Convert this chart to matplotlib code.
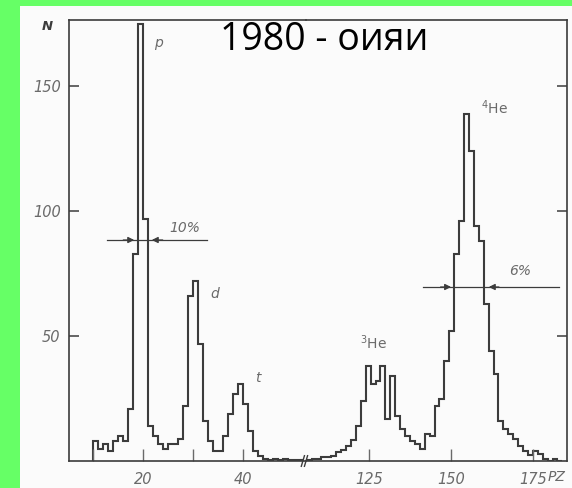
import numpy as np
import matplotlib
matplotlib.use("Agg")
import matplotlib.pyplot as plt
from matplotlib.patches import Rectangle

# ---- data ----
left_start = 10.0
left_width = 1.0
left_counts = [8, 5, 7, 4, 8, 10, 8, 21, 83, 175, 97, 14, 10, 7, 5, 7, 7, 9, 22, 66,
               72, 47, 16, 8, 4, 4, 10, 19, 27, 31, 23, 12, 4, 2, 1, 0.5, 1, 0.5, 1,
               0.5, 0.5, 0.5]
right_start = 106.0
right_width = 1.5
right_counts = [0.5, 1, 1, 1.5, 1.5, 2, 3.5, 4.5, 6, 8.5, 14, 24, 38, 31, 32, 38, 17,
                34, 18, 13, 10, 8, 7, 5, 11, 10, 22, 25, 40, 52, 83, 96, 139, 124, 94,
                88, 63, 44, 35, 16, 13, 11, 9, 6, 4, 2.5, 4, 3, 1, 0, 1, 0]
y_ticks = [50, 100, 150]
left_xticks = [20, 40]
left_minor = [10, 30]
right_xticks = [125, 150, 175]

W, H = 572, 488
GREEN = "#66ff66"
INK = "#3c3c3c"
GRAY = "#6a6a6a"

fig = plt.figure(figsize=(W / 100, H / 100), dpi=100, facecolor=GREEN)
bg = Rectangle((20 / W, 0), 552 / W, 482 / H, transform=fig.transFigure,
               facecolor="#fbfbfb", edgecolor="none", zorder=-10)
fig.patches.append(bg)

def px(x, y):
    return x / W, 1 - y / H

bottom = (H - 461) / H
height = 441 / H
axL = fig.add_axes([69 / W, bottom, 237 / W, height])
axR = fig.add_axes([306 / W, bottom, 261 / W, height], sharey=axL)
for ax in (axL, axR):
    ax.set_facecolor("none")
    ax.patch.set_alpha(0)
    ax.set_zorder(5)
    ax.set_ylim(0, 176.4)
    for s in ax.spines.values():
        s.set_color(INK)
        s.set_linewidth(1.2)

axL.set_xlim(5.2, 52.6)
axR.set_xlim(105.8, 185.4)
axL.spines["right"].set_visible(False)
axR.spines["left"].set_visible(False)

edgesL = left_start + left_width * np.arange(len(left_counts) + 1)
edgesR = right_start + right_width * np.arange(len(right_counts) + 1)
axL.stairs(left_counts, edgesL, color=INK, lw=1.5)
axR.stairs(right_counts, edgesR, color=INK, lw=1.5)

tick_font = dict(style="italic", color=GRAY, fontsize=10.5)
axL.set_yticks(y_ticks)
axL.set_yticklabels([str(v) for v in y_ticks], **tick_font)
axL.tick_params(axis="y", direction="in", length=7, width=1.1, color=INK, pad=6)
axL.set_xticks(left_xticks)
axL.set_xticks(left_minor, minor=True)
axL.set_xticklabels([str(v) for v in left_xticks], **tick_font)
axL.tick_params(axis="x", which="both", direction="in", length=9, width=1.0,
                color=GRAY, pad=8)

axR.set_xticks(right_xticks)
axR.set_xticklabels([str(v) for v in right_xticks], **tick_font)
axR.tick_params(axis="x", direction="in", length=9, width=1.0, color=GRAY, pad=8)
axR.tick_params(axis="y", left=False, labelleft=False, right=True, direction="in",
                length=7, width=1.1, color=INK)

# break mark
for dx in (-0.012, 0.0):
    axR.plot([dx - 0.006, dx + 0.006], [-0.012, 0.012], transform=axR.transAxes,
             color=INK, lw=1.0, clip_on=False)

# labels
fig.text(*px(47, 27), "N", style="italic", fontsize=9.5, color=INK,
         ha="center", va="center", weight="bold")
fig.text(*px(557, 477), "PZ", style="italic", fontsize=10, color=GRAY,
         ha="center", va="center")

lab = dict(style="italic", fontsize=10, color=GRAY, ha="center", va="center")
axL.text(23.0, 167, "p", **lab)
axL.text(34.4, 67, "d", **lab)
axL.text(43.0, 33, "t", **lab)
axL.text(28.4, 93, "10%", **lab)
axR.text(126.5, 47.5, r"$^{3}$He", fontsize=10, color=GRAY, ha="center", va="center")
axR.text(163.4, 141.5, r"$^{4}$He", fontsize=10, color=GRAY, ha="center", va="center")
axR.text(171.0, 76, "6%", **lab)

# FWHM markers
axL.plot([12.8, 32.8], [88.4, 88.4], color=INK, lw=0.9)
arrow = dict(arrowstyle="-|>", color=INK, lw=0.9, mutation_scale=9)
axL.annotate("", xy=(18.8, 88.4), xytext=(15.5, 88.4), arrowprops=arrow)
axL.annotate("", xy=(21.2, 88.4), xytext=(24.5, 88.4), arrowprops=arrow)
axR.plot([141.5, 182.9], [69.6, 69.6], color=INK, lw=0.9)
axR.annotate("", xy=(150.9, 69.6), xytext=(146.0, 69.6), arrowprops=arrow)
axR.annotate("", xy=(160.7, 69.6), xytext=(165.5, 69.6), arrowprops=arrow)

# title
fig.text(*px(324, 40), "1980 - оияи", fontsize=27, color="black",
         family=["Open Sans", "DejaVu Sans"], ha="center", va="center", zorder=10)

fig.savefig("out.png", dpi=100, facecolor=GREEN)
